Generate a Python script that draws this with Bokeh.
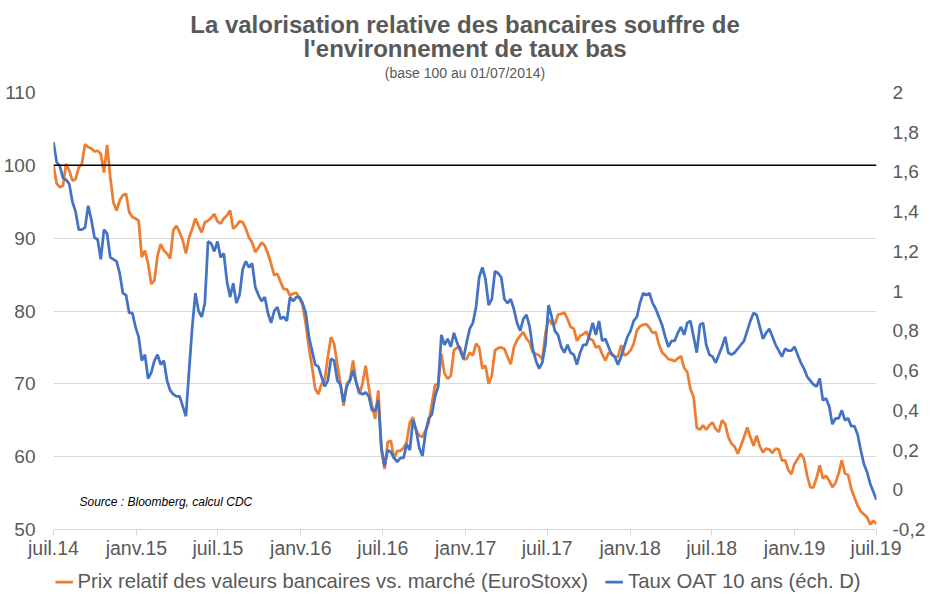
import pandas as pd
from bokeh.plotting import figure
from bokeh.layouts import column
from bokeh.models import Range1d, LinearAxis, FixedTicker, Span, Label, Legend, LegendItem, Title
from bokeh.embed import file_html
from bokeh.resources import INLINE

# ---------------- data ----------------
title_lines = ["La valorisation relative des bancaires souffre de",
               "l'environnement de taux bas"]
subtitle = "(base 100 au 01/07/2014)"
source_note = "Source : Bloomberg, calcul CDC"
series_names = ["Prix relatif des valeurs bancaires vs. marché (EuroStoxx)",
                "Taux OAT 10 ans (éch. D)"]

start_date = "2014-07-01"   # weekly observations from this date
end_date = "2019-07-02"

# Prix relatif des valeurs bancaires vs. marché (base 100), weekly
bank_rel = [
    100.0, 97.5, 97.0, 97.2, 100.2, 99.3, 97.9, 98.1, 99.7, 100.2,
    102.9, 102.5, 102.3, 101.9, 102.0, 101.6, 99.0, 102.8, 98.4, 94.9,
    93.8, 95.2, 95.9, 96.1, 93.6, 92.9, 92.7, 92.4, 87.4, 88.3,
    86.5, 83.7, 84.2, 87.6, 89.2, 88.3, 87.9, 87.2, 91.1, 91.7,
    90.8, 89.7, 87.9, 90.1, 91.3, 92.7, 91.7, 90.8, 92.2, 92.4,
    92.8, 93.3, 92.3, 92.0, 92.7, 93.1, 93.8, 91.3, 91.7, 92.3,
    92.2, 91.3, 90.1, 89.4, 88.1, 88.7, 89.4, 89.0, 87.9, 86.5,
    84.9, 85.1, 84.0, 83.0, 83.0, 82.1, 82.4, 82.5, 81.8, 80.8,
    78.2, 75.0, 72.3, 69.3, 68.6, 70.0, 70.5, 73.7, 76.4, 75.5,
    72.7, 70.0, 67.0, 70.0, 70.5, 73.2, 70.2, 68.6, 70.0, 72.5,
    69.5, 67.0, 65.2, 69.1, 60.8, 58.3, 62.0, 62.2, 59.7, 60.8,
    60.8, 61.2, 62.0, 64.7, 65.4, 63.6, 62.9, 62.7, 63.6, 64.7,
    67.3, 69.8, 70.0, 74.1, 71.4, 70.7, 71.1, 74.6, 75.0, 75.0,
    73.4, 73.4, 74.3, 73.9, 75.5, 75.0, 72.1, 72.5, 70.0, 71.1,
    74.6, 74.9, 75.0, 74.8, 73.7, 72.7, 75.0, 76.0, 76.6, 77.1,
    76.2, 75.7, 74.3, 74.1, 73.9, 73.4, 76.9, 78.9, 78.2, 78.2,
    79.5, 79.6, 79.8, 78.9, 77.8, 77.6, 75.9, 76.6, 76.8, 77.2,
    76.2, 76.0, 75.0, 75.2, 74.1, 73.2, 74.2, 74.2, 73.7, 73.7,
    75.3, 73.9, 74.1, 74.6, 75.5, 77.3, 77.9, 78.1, 78.2, 77.7,
    77.0, 77.1, 75.4, 74.3, 73.9, 73.4, 73.3, 73.1, 73.5, 73.8,
    72.2, 71.6, 69.3, 68.2, 64.0, 63.7, 64.3, 63.7, 64.3, 64.7,
    63.8, 63.4, 65.0, 64.5, 62.7, 61.8, 61.4, 60.4, 61.5, 62.7,
    64.0, 62.7, 61.5, 62.9, 61.4, 60.6, 61.1, 61.0, 60.5, 61.1,
    61.0, 59.5, 59.5, 58.2, 57.6, 59.0, 59.7, 60.4, 59.7, 57.4,
    55.8, 55.8, 57.1, 58.8, 57.0, 57.4, 56.7, 55.8, 56.4, 57.7,
    59.5, 57.7, 57.5, 55.6, 54.4, 53.3, 52.5, 52.1, 51.7, 50.7,
    51.2, 50.8,
]

# Taux OAT 10 ans (%), weekly, right-hand scale
oat_10y = [
    1.75, 1.65, 1.63, 1.57, 1.56, 1.54, 1.45, 1.40, 1.31, 1.31,
    1.32, 1.43, 1.36, 1.27, 1.26, 1.16, 1.31, 1.29, 1.17, 1.16,
    1.15, 1.09, 0.99, 0.98, 0.89, 0.89, 0.82, 0.77, 0.65, 0.68,
    0.56, 0.59, 0.65, 0.68, 0.63, 0.65, 0.55, 0.50, 0.48, 0.47,
    0.47, 0.42, 0.37, 0.60, 0.82, 0.99, 0.90, 0.87, 0.94, 1.25,
    1.24, 1.20, 1.25, 1.17, 1.19, 1.05, 0.97, 1.04, 0.94, 0.98,
    1.11, 1.15, 1.12, 1.14, 1.02, 0.98, 0.95, 0.97, 0.89, 0.84,
    0.90, 0.92, 0.86, 0.87, 0.85, 0.97, 0.95, 0.97, 0.97, 0.94,
    0.89, 0.77, 0.70, 0.63, 0.62, 0.57, 0.52, 0.55, 0.66, 0.65,
    0.55, 0.53, 0.44, 0.52, 0.55, 0.60, 0.54, 0.49, 0.48, 0.49,
    0.47, 0.40, 0.40, 0.45, 0.21, 0.12, 0.20, 0.19, 0.16, 0.14,
    0.16, 0.16, 0.23, 0.20, 0.35, 0.30, 0.21, 0.17, 0.29, 0.36,
    0.38, 0.47, 0.52, 0.78, 0.73, 0.76, 0.72, 0.79, 0.74, 0.70,
    0.66, 0.74, 0.81, 0.84, 0.92, 1.07, 1.12, 1.06, 0.93, 0.96,
    1.10, 1.09, 1.07, 0.96, 0.94, 0.96, 0.91, 0.84, 0.80, 0.86,
    0.88, 0.82, 0.71, 0.65, 0.61, 0.64, 0.73, 0.93, 0.87, 0.80,
    0.78, 0.72, 0.69, 0.73, 0.69, 0.68, 0.63, 0.69, 0.73, 0.73,
    0.78, 0.84, 0.78, 0.85, 0.75, 0.76, 0.72, 0.68, 0.67, 0.63,
    0.67, 0.72, 0.77, 0.80, 0.85, 0.87, 0.94, 0.99, 0.98, 0.99,
    0.94, 0.91, 0.87, 0.83, 0.77, 0.72, 0.75, 0.75, 0.79, 0.82,
    0.78, 0.84, 0.85, 0.77, 0.69, 0.83, 0.84, 0.73, 0.68, 0.67,
    0.64, 0.68, 0.72, 0.77, 0.69, 0.68, 0.69, 0.71, 0.73, 0.75,
    0.80, 0.85, 0.89, 0.88, 0.82, 0.76, 0.79, 0.81, 0.77, 0.73,
    0.70, 0.67, 0.71, 0.70, 0.70, 0.72, 0.68, 0.64, 0.61, 0.57,
    0.55, 0.53, 0.52, 0.56, 0.45, 0.46, 0.42, 0.33, 0.36, 0.36,
    0.40, 0.35, 0.36, 0.32, 0.32, 0.28, 0.20, 0.13, 0.09, 0.03,
    -0.01, -0.05,
]

ref_level = 100

x_tick_dates = ["2014-07-01", "2015-01-01", "2015-07-01", "2016-01-01",
                "2016-07-01", "2017-01-01", "2017-07-01", "2018-01-01",
                "2018-07-01", "2019-01-01", "2019-07-01"]
x_tick_labels = ["juil.14", "janv.15", "juil.15", "janv.16", "juil.16",
                 "janv.17", "juil.17", "janv.18", "juil.18", "janv.19", "juil.19"]

left_ticks = [50, 60, 70, 80, 90, 100, 110]
left_range = (50, 110)
right_ticks = [-0.2, 0.0, 0.2, 0.4, 0.6, 0.8, 1.0, 1.2, 1.4, 1.6, 1.8, 2.0]
right_tick_labels = ["-0,2", "0", "0,2", "0,4", "0,6", "0,8", "1",
                     "1,2", "1,4", "1,6", "1,8", "2"]
right_range = (-0.2, 2.0)

# ---------------- styling ----------------
ORANGE = "#ED7D31"
BLUE = "#4472C4"
GREY_TXT = "#595959"
GRID = "#D9D9D9"
FONT = "Liberation Sans"
LW = 2.75

dates = pd.date_range(start_date, periods=len(bank_rel), freq="7D")

p = figure(
    x_axis_type="datetime",
    x_range=Range1d(pd.Timestamp(start_date), pd.Timestamp(end_date)),
    y_range=Range1d(*left_range),
    frame_width=823, frame_height=437,
    min_border_left=45, min_border_right=40, min_border_top=92, min_border_bottom=30,
    output_backend="svg", toolbar_location=None,
    outline_line_color=None, background_fill_color="white",
    border_fill_color="white",
)
p.extra_y_ranges = {"taux": Range1d(*right_range)}

# grid
p.xgrid.grid_line_color = None
p.ygrid.grid_line_color = GRID
p.ygrid.grid_line_width = 1
p.ygrid.ticker = FixedTicker(ticks=left_ticks)

# x axis
tick_ms = [pd.Timestamp(d).timestamp() * 1000.0 for d in x_tick_dates]
xa = p.xaxis[0]
xa.ticker = FixedTicker(ticks=tick_ms)
xa.major_label_overrides = dict(zip(tick_ms, x_tick_labels))
xa.axis_line_color = GRID
xa.axis_line_width = 1
xa.major_tick_line_color = GRID
xa.major_tick_out = 6
xa.major_tick_in = 0
xa.minor_tick_line_color = None
xa.minor_tick_out = 0
xa.major_label_standoff = 1
xa.major_label_text_font = FONT
xa.major_label_text_font_size = "19.5px"
xa.major_label_text_color = GREY_TXT

# left axis
ya = p.yaxis[0]
ya.ticker = FixedTicker(ticks=left_ticks)
ya.axis_line_color = None
ya.major_tick_line_color = None
ya.minor_tick_line_color = None
ya.major_tick_out = 0
ya.minor_tick_out = 0
ya.major_label_standoff = 18
ya.major_label_text_font = FONT
ya.major_label_text_font_size = "19px"
ya.major_label_text_color = GREY_TXT

# right axis
ra = LinearAxis(y_range_name="taux", ticker=FixedTicker(ticks=right_ticks),
                major_label_overrides=dict(zip(right_ticks, right_tick_labels)))
ra.axis_line_color = None
ra.major_tick_line_color = None
ra.minor_tick_line_color = None
ra.major_tick_out = 0
ra.minor_tick_out = 0
ra.major_label_standoff = 16
ra.major_label_text_font = FONT
ra.major_label_text_font_size = "19px"
ra.major_label_text_color = GREY_TXT
p.add_layout(ra, "right")

# reference line at 100
p.add_layout(Span(location=ref_level, dimension="width", line_color="black", line_width=1.5))

# series
r_bank = p.line(dates, bank_rel, line_color=ORANGE, line_width=LW)
r_oat = p.line(dates, oat_10y, line_color=BLUE, line_width=LW, y_range_name="taux")

# titles (first added sits closest to the plot)
p.add_layout(Title(text=subtitle, align="center", text_font=FONT, text_font_style="normal",
                   text_font_size="14px", text_color=GREY_TXT, standoff=23), "above")
p.add_layout(Title(text=title_lines[1], align="center", text_font=FONT, text_font_style="bold",
                   text_font_size="24px", text_color=GREY_TXT, standoff=-20), "above")
p.add_layout(Title(text=title_lines[0], align="center", text_font=FONT, text_font_style="bold",
                   text_font_size="24px", text_color=GREY_TXT, standoff=9.5), "above")

# source note inside the plot area
p.add_layout(Label(x=26, y=28, x_units="screen", y_units="screen", text=source_note,
                   text_align="left", text_baseline="middle", text_font=FONT,
                   text_font_style="italic", text_font_size="12px", text_color="black"))

# legend strip under the chart (its own small canvas, no axes; the series are
# drawn there too but fall outside its ranges, they only feed the legend keys)
leg = figure(width=914, height=40, x_range=Range1d(0, 1), y_range=Range1d(0, 1),
             x_axis_location=None, y_axis_location=None,
             min_border_left=30, min_border_right=0, min_border_top=0, min_border_bottom=0,
             output_backend="svg", toolbar_location=None, outline_line_color=None,
             background_fill_color="white", border_fill_color="white")
leg.xgrid.visible = False
leg.ygrid.visible = False
k_bank = leg.line(dates, bank_rel, line_color=ORANGE, line_width=LW)
k_oat = leg.line(dates, oat_10y, line_color=BLUE, line_width=LW)
legend = Legend(
    items=[LegendItem(label=series_names[0], renderers=[k_bank]),
           LegendItem(label=series_names[1], renderers=[k_oat])],
    orientation="horizontal", location="center",
    border_line_color=None, background_fill_alpha=0,
    label_text_font=FONT, label_text_font_size="20.3px", label_text_color=GREY_TXT,
    glyph_width=18, glyph_height=20, label_height=20, label_standoff=5, spacing=17,
    padding=0, margin=0,
)
leg.add_layout(legend, "center")

open("out.html", "w").write(file_html(column(p, leg, spacing=0), INLINE))
